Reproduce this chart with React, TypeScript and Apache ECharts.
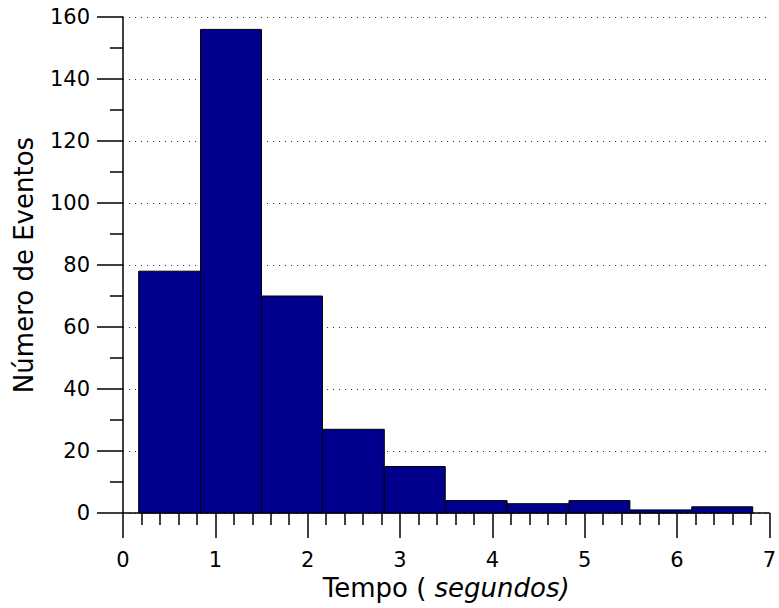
import React, { useEffect, useRef } from "react";
import * as echarts from "echarts";

const binEdges = [0.17, 0.84, 1.5, 2.16, 2.83, 3.49, 4.16, 4.83, 5.49, 6.16, 6.82];
const counts = [78, 156, 70, 27, 15, 4, 3, 4, 1, 2];
const xTitle = "Tempo ( ";
const xTitleItalic = "segundos)";
const yTitle = "Número de Eventos";

const FONT = "'DejaVu Sans', sans-serif";

export default function App() {
  const ref = useRef<HTMLDivElement>(null);
  useEffect(() => {
    if (!ref.current) return;
    const chart = echarts.init(ref.current, null, { renderer: "svg" });
    const data = counts.map((c, i) => [binEdges[i], binEdges[i + 1], c]);
    chart.setOption({
      animation: false,
      backgroundColor: "#fff",
      grid: { left: 123, right: 9, top: 17, bottom: 95, containLabel: false },
      xAxis: {
        type: "value",
        min: 0,
        max: 7,
        interval: 1,
        axisLine: { show: true, onZero: false, lineStyle: { color: "#000", width: 1.5 } },
        axisTick: { show: true, inside: false, length: 25, lineStyle: { color: "#000", width: 1.5 } },
        minorTick: { show: true, splitNumber: 5, length: 12, lineStyle: { color: "#000", width: 1.5 } },
        splitLine: { show: false },
        axisLabel: { margin: 36, fontSize: 21, color: "#000", fontFamily: FONT },
        name: `{a|${xTitle}}{b|${xTitleItalic}}`,
        nameLocation: "middle",
        nameGap: 60,
        nameTextStyle: {
          rich: {
            a: { fontSize: 26, color: "#000", fontFamily: FONT },
            b: { fontSize: 26, color: "#000", fontFamily: FONT, fontStyle: "italic" },
          },
        },
      },
      yAxis: {
        type: "value",
        min: 0,
        max: 160,
        interval: 20,
        axisLine: { show: true, lineStyle: { color: "#000", width: 1.5 } },
        axisTick: { show: true, inside: false, length: 26, lineStyle: { color: "#000", width: 1.5 } },
        minorTick: { show: true, splitNumber: 2, length: 13, lineStyle: { color: "#000", width: 1.5 } },
        splitLine: { show: true, lineStyle: { color: "#333", width: 1, type: [1, 5] } },
        axisLabel: { margin: 33, fontSize: 21, color: "#000", fontFamily: FONT },
        name: yTitle,
        nameLocation: "middle",
        nameGap: 86,
        nameTextStyle: { fontSize: 26, color: "#000", fontFamily: FONT },
      },
      series: [
        {
          type: "custom",
          data,
          encode: { x: [0, 1], y: 2 },
          renderItem: (params: any, api: any) => {
            const p0 = api.coord([api.value(0), api.value(2)]);
            const p1 = api.coord([api.value(1), 0]);
            return {
              type: "rect",
              shape: { x: p0[0], y: p0[1], width: p1[0] - p0[0], height: p1[1] - p0[1] },
              style: { fill: "#00008C", stroke: "#000", lineWidth: 1 },
            };
          },
        },
      ],
    });
    return () => chart.dispose();
  }, []);
  return <div ref={ref} style={{ width: 779, height: 608, position: "absolute", left: 0, top: 0 }} />;
}
